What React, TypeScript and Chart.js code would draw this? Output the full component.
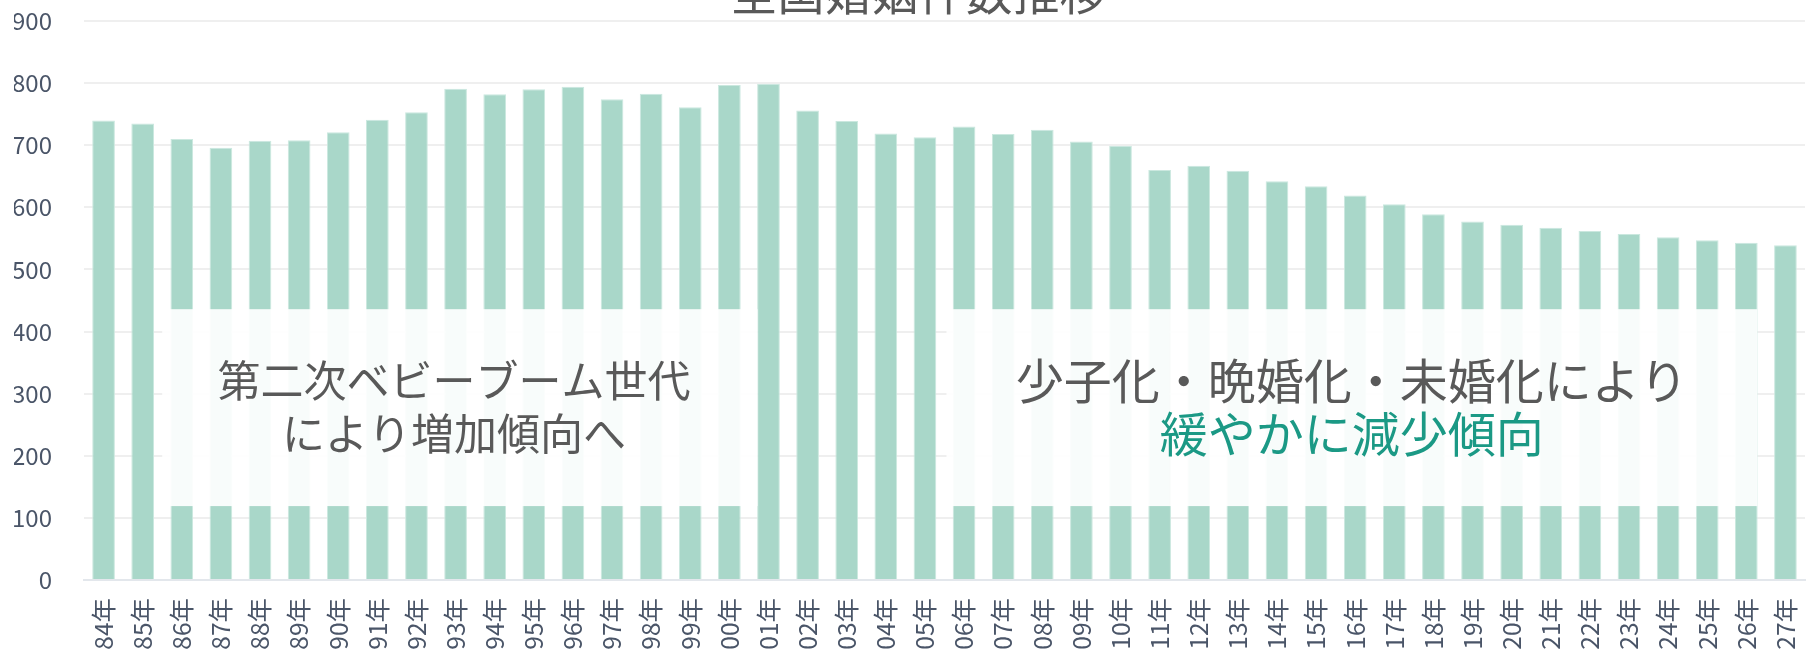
import React, { useEffect, useRef } from "react";
import { Chart, registerables } from "chart.js";

Chart.register(...registerables);

// ---- data ----
const yearLabels = [
  "84年", "85年", "86年", "87年", "88年", "89年", "90年", "91年", "92年", "93年", "94年",
  "95年", "96年", "97年", "98年", "99年", "00年", "01年", "02年", "03年", "04年", "05年",
  "06年", "07年", "08年", "09年", "10年", "11年", "12年", "13年", "14年", "15年", "16年",
  "17年", "18年", "19年", "20年", "21年", "22年", "23年", "24年", "25年", "26年", "27年",
];

// marriages (thousands)
const marriageCounts = [
  740, 735, 710, 696, 707, 708, 721, 741, 753, 791, 782,
  790, 794, 774, 783, 761, 797, 799, 756, 739, 719, 713,
  730, 718, 725, 706, 699, 660, 667, 659, 642, 634, 619,
  605, 589, 577, 572, 567, 562, 557, 552, 547, 543, 539,
];

const yMin = 0;
const yMax = 900;
const yStep = 100;

const chartTitle = "全国婚姻件数推移";

// note boxes: category-index range, value range, text lines
const noteLeftRange = [1.5, 16.72];
const noteRightRange = [21.55, 42.28];
const noteValueRange = [119, 436];
const noteLeftLines = ["第二次ベビーブーム世代", "により増加傾向へ"];
const noteRightLines = ["少子化・晩婚化・未婚化により", "緩やかに減少傾向"];

const FONT = "'Noto Sans CJK JP', 'Noto Sans', sans-serif";
const BAR_COLOR = "#a9d7c9";
const TEXT_GRAY = "#595959";
const TEAL = "#1b9985";
const TICK_COLOR = "#4a5568";

const overlayPlugin = {
  id: "overlayNotes",
  afterDatasetsDraw(chart: any) {
    const { ctx, scales } = chart;
    const x = scales.x;
    const y = scales.y;
    const top = y.getPixelForValue(noteValueRange[1]);
    const bottom = y.getPixelForValue(noteValueRange[0]);
    const drawBox = (
      range: number[],
      lines: string[],
      colors: string[],
      size: number,
      lineGap: number,
      dx: number
    ) => {
      const l = x.getPixelForValue(range[0]);
      const r = x.getPixelForValue(range[1]);
      ctx.save();
      ctx.fillStyle = "rgba(255,255,255,0.92)";
      ctx.fillRect(l, top, r - l, bottom - top);
      ctx.font = `${size}px ${FONT}`;
      ctx.textAlign = "center";
      ctx.textBaseline = "middle";
      const cx = (l + r) / 2 + dx;
      const cy = (top + bottom) / 2;
      lines.forEach((t, i) => {
        ctx.fillStyle = colors[i];
        ctx.fillText(t, cx, cy + (i - (lines.length - 1) / 2) * lineGap);
      });
      ctx.restore();
    };
    drawBox(noteLeftRange, noteLeftLines, [TEXT_GRAY, TEXT_GRAY], 43, 53, -6);
    drawBox(noteRightRange, noteRightLines, [TEXT_GRAY, TEAL], 48, 53, 0);
  },
  afterDraw(chart: any) {
    const { ctx } = chart;
    ctx.save();
    ctx.font = `47px ${FONT}`;
    ctx.fillStyle = TEXT_GRAY;
    ctx.textAlign = "center";
    ctx.textBaseline = "alphabetic";
    ctx.fillText(chartTitle, chart.width / 2 + 10, 70);
    ctx.restore();
  },
};

export default function App() {
  const canvasRef = useRef<HTMLCanvasElement | null>(null);

  useEffect(() => {
    if (!canvasRef.current) return;
    const chart = new Chart(canvasRef.current, {
      type: "bar",
      data: {
        labels: yearLabels,
        datasets: [
          {
            label: "婚姻件数",
            data: marriageCounts,
            backgroundColor: BAR_COLOR,
            borderColor: "#cbe8df",
            borderWidth: { top: 1, left: 1, right: 1, bottom: 0 },
            barPercentage: 0.58,
            categoryPercentage: 1,
          },
        ],
      },
      options: {
        animation: false,
        responsive: true,
        maintainAspectRatio: false,
        devicePixelRatio: 1,
        layout: { padding: { left: 6, right: 4, top: 81, bottom: 0 } },
        plugins: {
          legend: { display: false },
          title: { display: false },
          tooltip: { enabled: false },
        },
        scales: {
          x: {
            grid: { display: false, drawTicks: false },
            border: { display: true, color: "#e3e7ec", width: 2 },
            ticks: {
              autoSkip: false,
              maxRotation: 90,
              minRotation: 90,
              padding: 18,
              color: TICK_COLOR,
              font: { size: 24.5, family: FONT },
            },
            afterFit(scale: any) {
              scale.height = 100;
              scale.paddingLeft = 0;
              scale.paddingRight = 0;
            },
          },
          y: {
            min: yMin,
            max: yMax,
            grid: { color: "#efefef", lineWidth: 2, drawTicks: false },
            border: { display: false },
            ticks: {
              stepSize: yStep,
              padding: 32,
              color: TICK_COLOR,
              font: { size: 24, family: FONT },
            },
            afterFit(scale: any) {
              scale.width = 70;
              scale.paddingTop = 0;
              scale.paddingBottom = 0;
            },
          },
        },
      },
      plugins: [overlayPlugin],
    });
    return () => chart.destroy();
  }, []);

  return (
    <div
      style={{
        position: "fixed",
        left: 0,
        top: 0,
        width: 1809,
        height: 651,
        overflow: "hidden",
        background: "#ffffff",
      }}
    >
      <div
        style={{
          position: "absolute",
          left: 8,
          top: -60,
          width: 1801,
          height: 740,
        }}
      >
        <canvas ref={canvasRef} />
      </div>
    </div>
  );
}
